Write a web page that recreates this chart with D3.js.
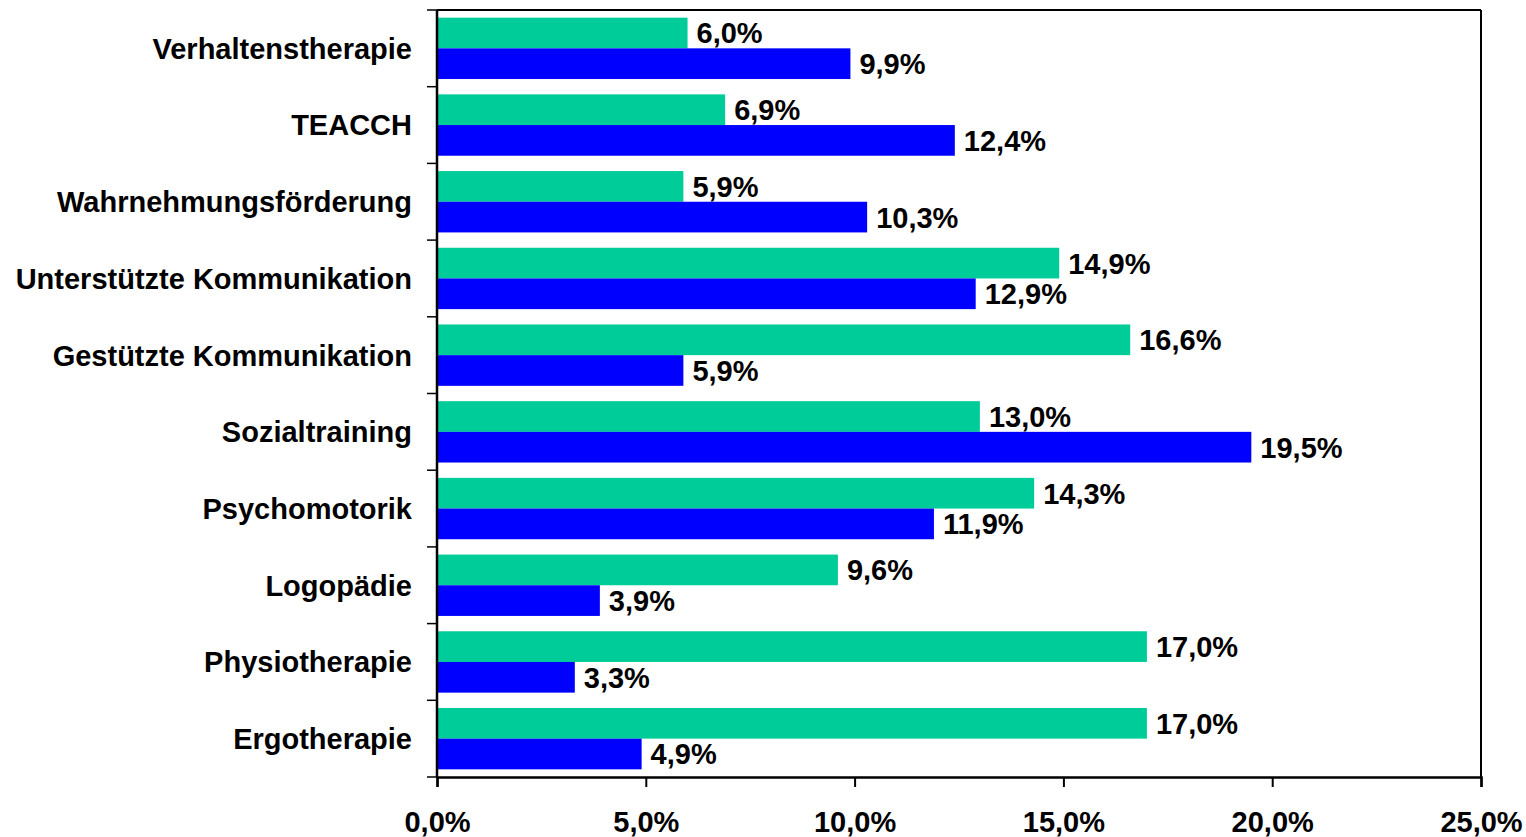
<!DOCTYPE html>
<html><head><meta charset="utf-8">
<script src="https://cdn.jsdelivr.net/npm/d3@7"></script>
<style>body{margin:0;background:#fff;}svg{display:block;}text{font-family:"Liberation Sans",Arial,sans-serif;font-weight:bold;fill:#000;}</style>
</head><body>
<script>
const categories = ["Verhaltenstherapie","TEACCH","Wahrnehmungsförderung","Unterstützte Kommunikation","Gestützte Kommunikation","Sozialtraining","Psychomotorik","Logopädie","Physiotherapie","Ergotherapie"];
const seriesGreen = [6.0,6.9,5.9,14.9,16.6,13.0,14.3,9.6,17.0,17.0];
const seriesBlue = [9.9,12.4,10.3,12.9,5.9,19.5,11.9,3.9,3.3,4.9];
const xTicks = [0,5,10,15,20,25];
const colors = ["#00CC99","#0000FF"];

const W=1526,H=837;
const L=437,R=1481,T=10,B=777;
const fs=29;
const fmt = v => v.toFixed(1).replace(".",",")+"%";

const svg=d3.select("body").append("svg").attr("width",W).attr("height",H);
const x=d3.scaleLinear().domain([0,25]).range([L,R]);
const y=d3.scaleBand().domain(categories).range([T,B]).paddingInner(0.2).paddingOuter(0.1);
const yb=d3.scaleBand().domain(categories).range([T,B]);
const sub=d3.scaleBand().domain([0,1]).range([0,y.bandwidth()]);

const series=[seriesGreen,seriesBlue];
series.forEach((vals,si)=>{
  const g=svg.append("g");
  g.selectAll("rect").data(categories).join("rect")
    .attr("x",x(0)).attr("y",(c)=>y(c)+sub(si))
    .attr("width",(c,i)=>x(vals[i])-x(0)).attr("height",sub.bandwidth())
    .attr("fill",colors[si]);
  g.selectAll("text").data(categories).join("text")
    .attr("x",(c,i)=>x(vals[i])+9).attr("y",(c)=>y(c)+sub(si)+sub.bandwidth()/2)
    .attr("dy","0.36em").attr("font-size",fs).text((c,i)=>fmt(vals[i]));
});

// frame top & right
svg.append("line").attr("x1",L).attr("x2",R).attr("y1",T).attr("y2",T).attr("stroke","#000").attr("stroke-width",2);
svg.append("line").attr("x1",R).attr("x2",R).attr("y1",T).attr("y2",B).attr("stroke","#000").attr("stroke-width",2);

// x axis
const xa=svg.append("g").attr("transform",`translate(0,${B})`)
  .call(d3.axisBottom(x).tickValues(xTicks).tickFormat(d=>fmt(d)).tickSize(10).tickPadding(24));
xa.select(".domain").attr("stroke-width",2.5);
xa.selectAll(".tick line").attr("stroke-width",2);
xa.selectAll("text").attr("font-size",fs).attr("font-family",null);

// y axis: ticks at band boundaries
const boundaries=categories.map(c=>yb(c)).concat([B]);
const ya=svg.append("g");
ya.append("line").attr("x1",L).attr("x2",L).attr("y1",T).attr("y2",B).attr("stroke","#000").attr("stroke-width",2.5);
ya.selectAll(".tk").data(boundaries).join("line").attr("class","tk")
  .attr("x1",L-10).attr("x2",L).attr("y1",d=>d).attr("y2",d=>d).attr("stroke","#000").attr("stroke-width",1.5);
ya.selectAll("text").data(categories).join("text")
  .attr("x",L-25).attr("y",c=>yb(c)+yb.bandwidth()/2)
  .attr("dy","0.36em").attr("text-anchor","end").attr("font-size",fs).text(c=>c);
</script>
</body></html>
